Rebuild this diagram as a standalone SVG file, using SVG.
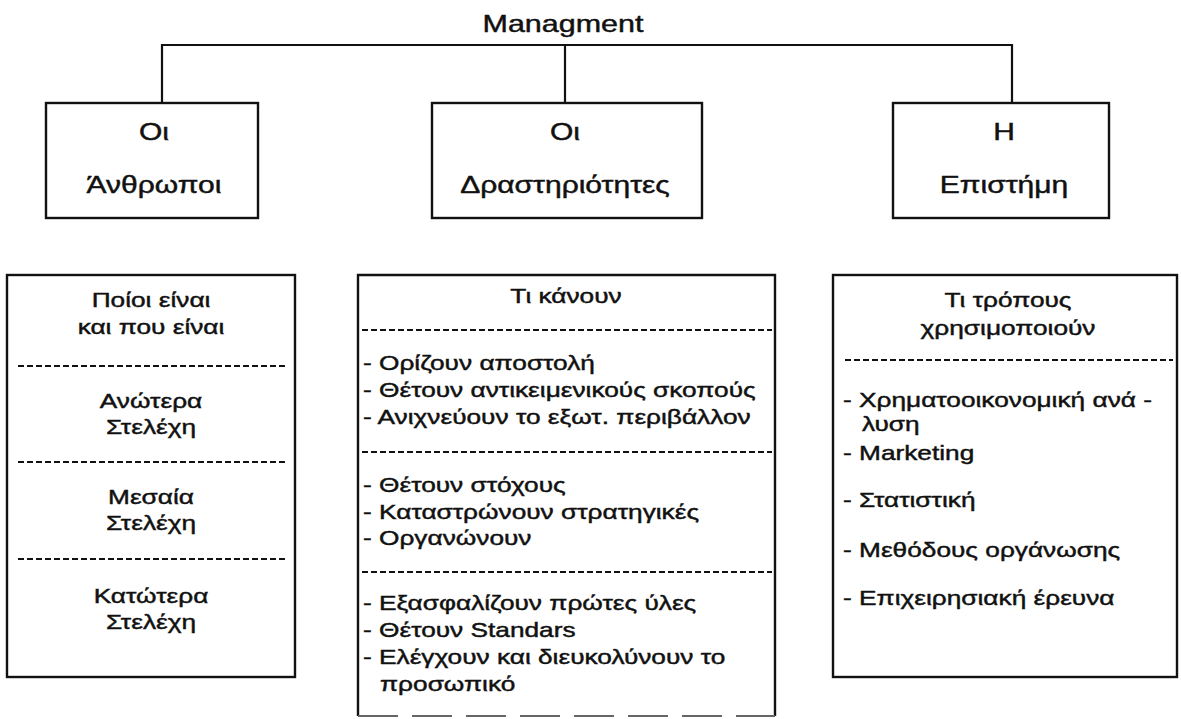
<svg xmlns="http://www.w3.org/2000/svg" width="1181" height="719" viewBox="0 0 1181 719">
<style>
.t{font-family:"Liberation Sans",Arial,sans-serif;fill:#111;stroke:#111;stroke-width:0.45}
.top{font-size:24px;text-anchor:middle}
.h{font-size:21px;text-anchor:middle}
.l{font-size:21px}
.box{fill:#fff;stroke:#111;stroke-width:2.4}
.dash{stroke:#111;stroke-width:1.8;stroke-dasharray:6 3;fill:none}
.conn{fill:none;stroke:#111;stroke-width:2.2}
</style>
<rect width="1181" height="719" fill="#fff"/>
<g id="connectors">
<path class="conn" d="M162 103 V45 H1012 V103"/>
<path class="conn" d="M565 45 V103"/>
</g>
<g id="managment">
<g transform="translate(563 0) scale(1.27 1)"><text class="t top" x="0" y="32">Managment</text></g>
</g>
<g id="anthropoi">
<rect class="box" x="46" y="103" width="212" height="115"/>
<g transform="translate(154 0) scale(1.25 1)">
<text class="t top" x="0" y="140">Οι</text>
<text class="t top" x="0" y="193">Άνθρωποι</text>
</g>
</g>
<g id="drastiriotites">
<rect class="box" x="432" y="103" width="270" height="115"/>
<g transform="translate(565 0) scale(1.25 1)">
<text class="t top" x="0" y="140">Οι</text>
<text class="t top" x="0" y="193">Δραστηριότητες</text>
</g>
</g>
<g id="episteme">
<rect class="box" x="893" y="103" width="216" height="115"/>
<g transform="translate(1004 0) scale(1.25 1)">
<text class="t top" x="0" y="140">Η</text>
<text class="t top" x="0" y="193">Επιστήμη</text>
</g>
</g>
<g id="poioi">
<rect class="box" x="7" y="275" width="288" height="402"/>
<line class="dash" x1="18" y1="366" x2="286" y2="366"/>
<line class="dash" x1="18" y1="462" x2="286" y2="462"/>
<line class="dash" x1="18" y1="559" x2="286" y2="559"/>
<g transform="translate(151 0) scale(1.25 1)">
<text class="t h" x="0" y="307">Ποίοι είναι</text>
<text class="t h" x="0" y="334">και που είναι</text>
<text class="t h" x="0" y="408">Ανώτερα</text>
<text class="t h" x="0" y="434">Στελέχη</text>
<text class="t h" x="0" y="504">Μεσαία</text>
<text class="t h" x="0" y="530">Στελέχη</text>
<text class="t h" x="0" y="603">Κατώτερα</text>
<text class="t h" x="0" y="629">Στελέχη</text>
</g>
</g>
<g id="ti-kanoun">
<path class="box" d="M358 716 V275 H775 V716"/>
<line x1="358" y1="716" x2="775" y2="716" stroke="#666" stroke-width="2" stroke-dasharray="40 14"/>
<line class="dash" x1="362" y1="330" x2="772" y2="330"/>
<line class="dash" x1="362" y1="452" x2="772" y2="452"/>
<line class="dash" x1="362" y1="572" x2="772" y2="572"/>
<g transform="translate(566 0) scale(1.25 1)">
<text class="t h" x="0" y="303">Τι κάνουν</text>
</g>
<g transform="translate(363 0) scale(1.25 1)">
<text class="t l" x="0" y="370">- Ορίζουν αποστολή</text>
<text class="t l" x="0" y="397">- Θέτουν αντικειμενικούς σκοπούς</text>
<text class="t l" x="0" y="424">- Ανιχνεύουν το εξωτ. περιβάλλον</text>
<text class="t l" x="0" y="492">- Θέτουν στόχους</text>
<text class="t l" x="0" y="519">- Καταστρώνουν στρατηγικές</text>
<text class="t l" x="0" y="545">- Οργανώνουν</text>
<text class="t l" x="0" y="610">- Εξασφαλίζουν πρώτες ύλες</text>
<text class="t l" x="0" y="637">- Θέτουν Standars</text>
<text class="t l" x="0" y="664">- Ελέγχουν και διευκολύνουν το</text>
</g>
<g transform="translate(380 0) scale(1.25 1)">
<text class="t l" x="0" y="691">προσωπικό</text>
</g>
</g>
<g id="ti-tropous">
<rect class="box" x="833" y="275" width="344" height="402"/>
<line class="dash" x1="845" y1="360" x2="1173" y2="360"/>
<g transform="translate(1008 0) scale(1.25 1)">
<text class="t h" x="0" y="307">Τι τρόπους</text>
<text class="t h" x="0" y="335">χρησιμοποιούν</text>
</g>
<g transform="translate(843 0) scale(1.25 1)">
<text class="t l" x="0" y="407">- Χρηματοοικονομική ανά -</text>
<text class="t l" x="0" y="460">- Marketing</text>
<text class="t l" x="0" y="507">- Στατιστική</text>
<text class="t l" x="0" y="557">- Μεθόδους οργάνωσης</text>
<text class="t l" x="0" y="605">- Επιχειρησιακή έρευνα</text>
</g>
<g transform="translate(862 0) scale(1.25 1)">
<text class="t l" x="0" y="431">λυση</text>
</g>
</g>
</svg>
